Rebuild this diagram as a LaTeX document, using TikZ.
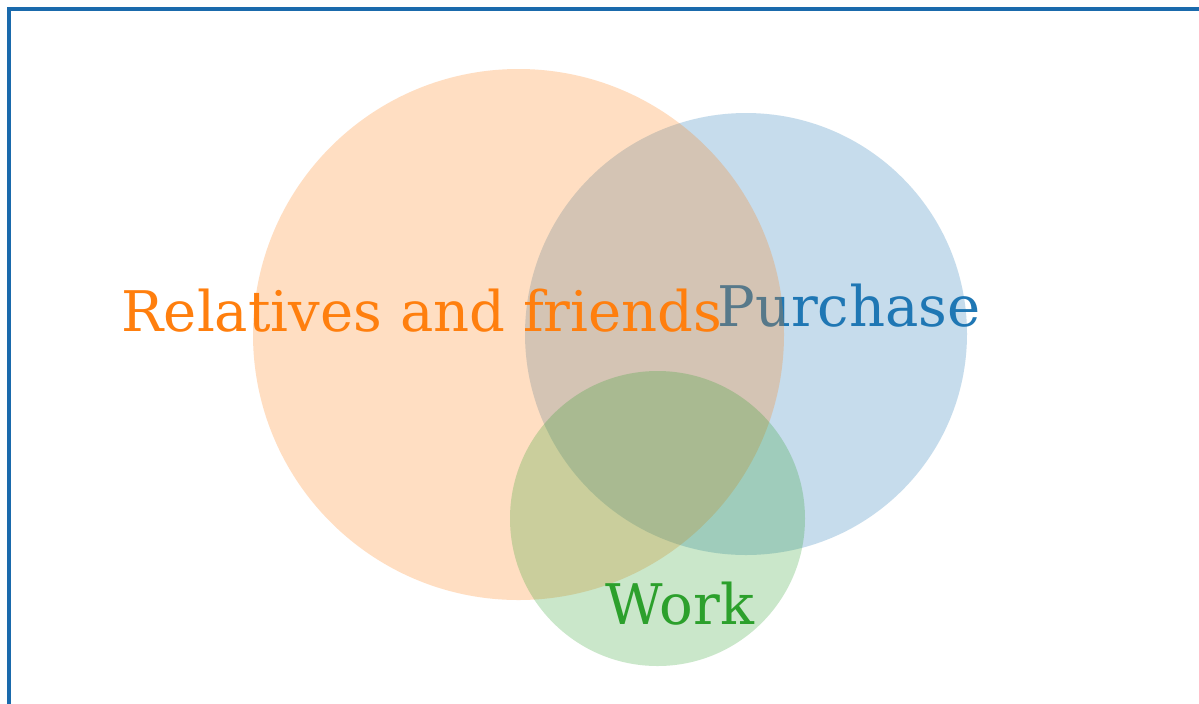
\documentclass[tikz,border=0pt]{standalone}
\usepackage{fontspec}
\setmainfont{DejaVu Serif}
\definecolor{corange}{HTML}{FF7F0E}
\definecolor{cblue}{HTML}{1F77B4}
\definecolor{cgreen}{HTML}{2CA02C}
\definecolor{cframe}{HTML}{1A6AAC}
\begin{document}
\begin{tikzpicture}[x=0.5pt,y=-0.5pt,
  setcircle/.style={fill opacity=0.25},
  setlabel/.style={anchor=base,inner sep=0pt,font=\fontsize{28}{34}\selectfont}]
\useasboundingbox (0,0) rectangle (1199,703);
\fill[white] (0,0) rectangle (1199,703);
\draw[cframe,line width=1.7pt] (9,710) -- (9,9) -- (1210,9);
% blue set
\fill[cblue,setcircle] (746,334) circle (221);
\node[setlabel,text=cblue] (purchase) at (849,326) {Purchase};
% orange set
\fill[corange,setcircle] (518.5,334.5) circle (265.5);
\node[setlabel,text=corange] (relatives) at (422,331.5) {Relatives and friends};
% green set
\fill[cgreen,setcircle] (657.5,518.5) circle (147.5);
\node[setlabel,text=cgreen] (work) at (680,624) {Work};
\end{tikzpicture}
\end{document}
